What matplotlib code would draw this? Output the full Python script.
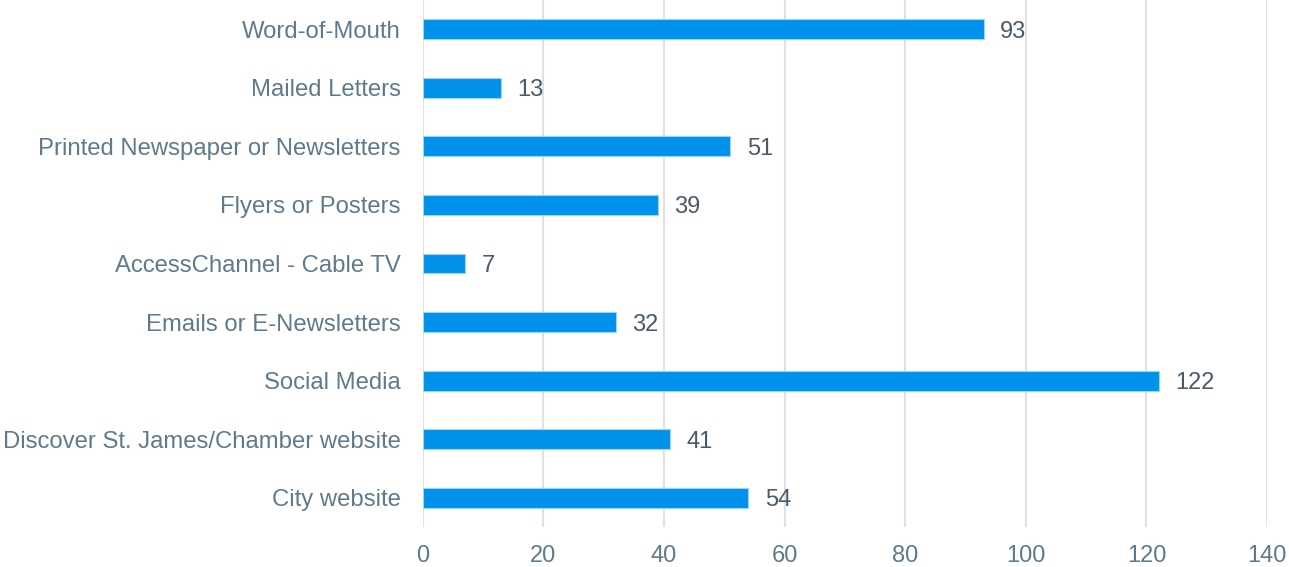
import matplotlib.pyplot as plt

plt.rcParams['font.family'] = ['Liberation Sans', 'DejaVu Sans']

# данные (снизу вверх)
categories = ["City website", "Discover St. James/Chamber website", "Social Media",
              "Emails or E-Newsletters", "AccessChannel - Cable TV", "Flyers or Posters",
              "Printed Newspaper or Newsletters", "Mailed Letters", "Word-of-Mouth"]
counts = [54, 41, 122, 32, 7, 39, 51, 13, 93]
xticks = [0, 20, 40, 60, 80, 100, 120, 140]

fig = plt.figure(figsize=(12.89, 5.67), dpi=100)
ax = fig.add_axes([0.328, 0.0705, 0.655, 0.9295])

bars = ax.barh(range(len(categories)), counts, height=0.34, color='#0091EA',
               edgecolor='#9fd3f5', linewidth=0.8, zorder=3)
for b, v in zip(bars, counts):
    ax.text(v + 2.7, b.get_y() + b.get_height() / 2, str(v), va='center_baseline',
            ha='left', fontsize=17, color='#4a5a68')

ax.set_xlim(0, 140)
ax.set_ylim(-0.5, len(categories) - 0.5)
ax.set_xticks(xticks)
ax.set_yticks(range(len(categories)))
ax.set_yticklabels(categories)
ax.tick_params(axis='x', length=0, pad=13, labelsize=17, labelcolor='#5f7a8c')
ax.tick_params(axis='y', length=0, pad=16, labelsize=17.2, labelcolor='#5f7a8c')
ax.grid(axis='x', color='#dde2e7', linewidth=1.5, zorder=0)
for s in ax.spines.values():
    s.set_visible(False)

fig.savefig("out.png", dpi=100)
